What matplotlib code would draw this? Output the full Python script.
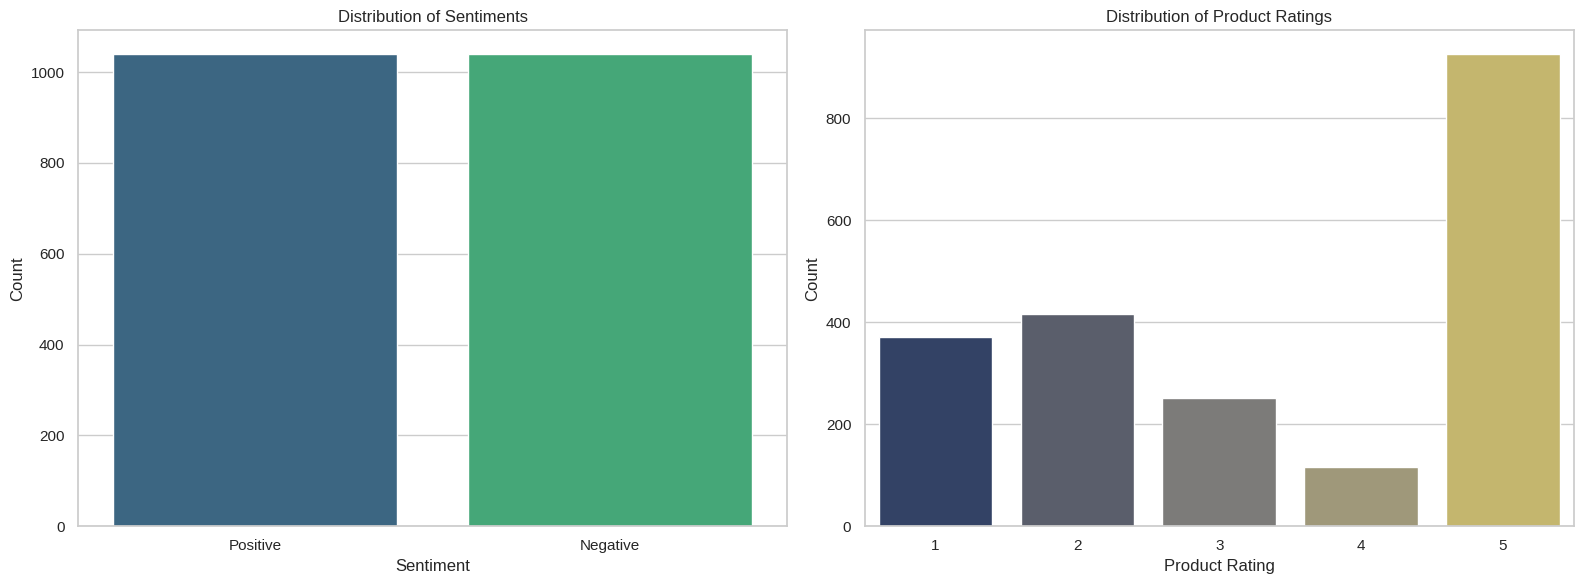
import matplotlib
matplotlib.use("Agg")
import matplotlib.pyplot as plt
import seaborn as sns

# sentiment counts
sentiments = ["Positive", "Negative"]
sentiment_counts = [1040, 1040]

# product rating counts
ratings = ["1", "2", "3", "4", "5"]
rating_counts = [372, 416, 251, 117, 926]

sns.set_theme(style="whitegrid")
plt.rcParams["font.family"] = ["Liberation Sans", "DejaVu Sans"]

fig, axs = plt.subplots(1, 2, figsize=(16, 6), dpi=100)

ax = axs[0]
sns.barplot(x=sentiments, y=sentiment_counts, hue=sentiments, palette="viridis", legend=False, ax=ax)
ax.set_title("Distribution of Sentiments")
ax.set_xlabel("Sentiment")
ax.set_ylabel("Count")

ax = axs[1]
sns.barplot(x=ratings, y=rating_counts, hue=ratings, palette="cividis", legend=False, ax=ax)
ax.set_title("Distribution of Product Ratings")
ax.set_xlabel("Product Rating")
ax.set_ylabel("Count")

plt.tight_layout()
plt.savefig("out.png", bbox_inches="tight")
